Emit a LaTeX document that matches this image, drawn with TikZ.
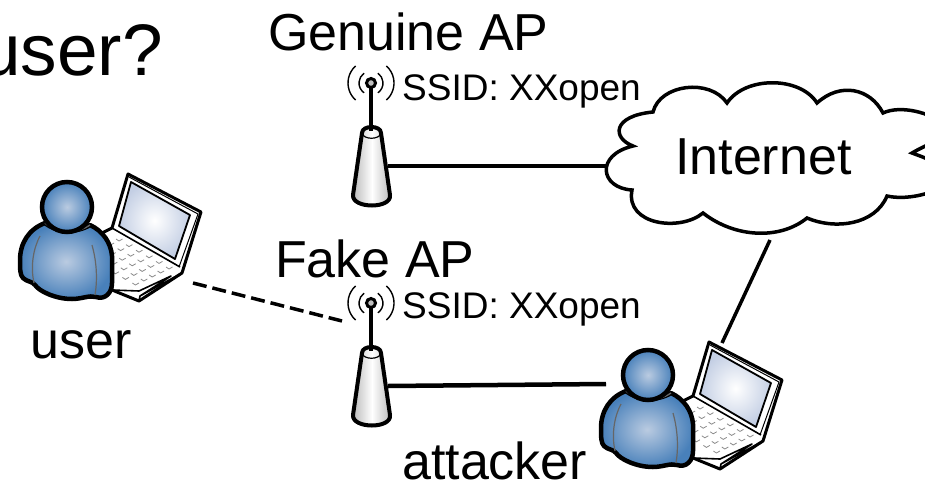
\documentclass[tikz,border=0pt]{standalone}
\usepackage{fontspec}
\setmainfont{Liberation Sans}
\definecolor{bodyblue}{RGB}{72,128,186}
\definecolor{bodylight}{RGB}{186,203,225}
\definecolor{screenblue}{RGB}{196,207,228}
\tikzset{
    biglabel/.style = {inner sep = 0pt, anchor = base west, font = \fontsize{52}{52}\selectfont},
    ssidlabel/.style = {inner sep = 0pt, anchor = base west, font = \fontsize{37}{37}\selectfont},
    link/.style = {line width = 4.5pt},
    pics/antenna/.style = {code = {
        \coordinate (-east) at (17,83);
        \coordinate (-west) at (-29,18);
        \shade[left color = black!28, right color = black!28, middle color = white, draw = black, line width = 4pt, line join = round]
            (-9,50) .. controls (-9,42) and (10,42) .. (10,50)
            -- (19,112) .. controls (21,126) and (-19,126) .. (-18,112) -- cycle;
        \draw[line width = 1.2pt] (-9,50) .. controls (-8,57) and (9,57) .. (10,50);
        \draw[line width = 3.5pt] (0,4) -- (0,48);
        \filldraw[line width = 3pt, fill = black!25] (0,0) circle (4.5);
        \foreach \r/\a in {12/55,23/48}{
            \draw[line width = 1.4pt] (180-\a:\r) arc (180-\a:180+\a:\r);
            \draw[line width = 1.4pt] (\a:\r) arc (\a:-\a:\r);
        }
    }},
    pics/person/.style = {code = {
        \coordinate (-east) at (126,76);
        \coordinate (-west) at (-42,9);
        \coordinate (-top) at (74,-32);
        % laptop
        \filldraw[line width = 3pt, fill = white, line join = round]
            (61,-33) -- (134,5) -- (115,66) -- (72,94) -- (45,83) -- (35,26) -- (45,21) -- cycle;
        \shade[inner color = white, outer color = screenblue, draw = black, line width = 1.8pt, line join = round]
            (64,-25) -- (123,8) -- (108,52) -- (52,19) -- cycle;
        \draw[line width = 1pt] (62,-30) -- (131,7) -- (112,60);
        \draw[line width = 1.6pt] (45,21) -- (113,60);
        \draw[line width = 1.6pt, line join = round] (115,66) -- (73,89) -- (72,94) (45,83) -- (72,84) -- (104,69) -- (73,89);
        \foreach \i in {0,...,5}{
            \foreach \j in {0,...,4}{
                \draw[black!45, line width = 0.8pt, xshift = 102pt-\i*10pt-\j*8.4pt, yshift = -61pt+\i*5.6pt-\j*4pt]
                    (-3,-1) -- (0,1) -- (3.5,-1);
            }
        }
        % body and head
        \shade[inner color = bodylight, outer color = bodyblue, draw = black, line width = 4.5pt, line join = round]
            (-22,16) .. controls (-38,22) and (-47,36) .. (-47,53)
            .. controls (-47,62) and (-47,68) .. (-44,71)
            .. controls (-40,75) and (-35,74) .. (-32,78)
            .. controls (-28,84) and (-12,92) .. (5,92)
            .. controls (15,92) and (22,88) .. (29,90)
            .. controls (38,93) and (45,86) .. (45,76)
            -- (45,49) .. controls (44,36) and (36,24) .. (23,18)
            .. controls (10,26) and (-10,26) .. (-22,16) -- cycle;
        \draw[black!60, line width = 1.4pt] (-22,16) .. controls (-10,27) and (10,27) .. (23,18);
        \draw[black!60, line width = 1.2pt] (-27,29) .. controls (-33,40) and (-37,58) .. (-33,76);
        \draw[black!60, line width = 1.2pt] (25,38) .. controls (29,52) and (31,70) .. (28,88);
        \shade[inner color = bodylight, outer color = bodyblue, draw = black, line width = 4.5pt] (0,0) circle (25);
    }}
}
\begin{document}
\begin{tikzpicture}[x=1pt,y=-1pt]
    \useasboundingbox (0,0) rectangle (925,479);
    \pic (genuine) at (371,83) {antenna};
    \pic (fake) at (371,303) {antenna};
    \pic (user) at (67,207) {person};
    \pic (attacker) at (648,375) {person};

    \filldraw[line width = 3.5pt, fill = white, line join = miter]
        (633,146) .. controls (612,138) and (612,116) .. (653,112)
        .. controls (660,84) and (710,78) .. (727,103)
        .. controls (745,76) and (800,76) .. (817,103)
        .. controls (840,82) and (870,88) .. (883,113)
        .. controls (900,105) and (930,112) .. (945,125)
        .. controls (945,140) and (925,145) .. (912,153)
        .. controls (925,158) and (950,165) .. (945,185)
        .. controls (930,195) and (905,200) .. (887,196)
        .. controls (875,225) and (835,230) .. (807,218)
        .. controls (780,240) and (735,238) .. (703,213)
        .. controls (680,232) and (625,225) .. (632,190)
        .. controls (600,188) and (595,155) .. (633,146) -- cycle;
    \coordinate (cloudwest) at (606,166);
    \coordinate (cloudsouth) at (770,240);

    \draw[link] (genuine-east) -- (cloudwest);
    \draw[link] (fake-east) -- (attacker-west);
    \draw[line width = 3.5pt] (cloudsouth) -- (attacker-top);
    \draw[line width = 3.5pt, dash pattern = on 14pt off 6pt] (user-east) -- (fake-west);

    \node[inner sep = 0pt, anchor = base east, font = \fontsize{73}{73}\selectfont] (title) at (163,75) {user?};
    \node[biglabel] (genuinelabel) at (268,50) {Genuine AP};
    \node[ssidlabel] (genuinessid) at (402,100) {SSID: XXopen};
    \node[biglabel] (fakelabel) at (275,277) {Fake AP};
    \node[ssidlabel] (fakessid) at (402,318) {SSID: XXopen};
    \node[biglabel] (internetlabel) at (675,174) {Internet};
    \node[biglabel] (userlabel) at (30,358) {user};
    \node[biglabel] (attackerlabel) at (402,479) {attacker};
\end{tikzpicture}
\end{document}
